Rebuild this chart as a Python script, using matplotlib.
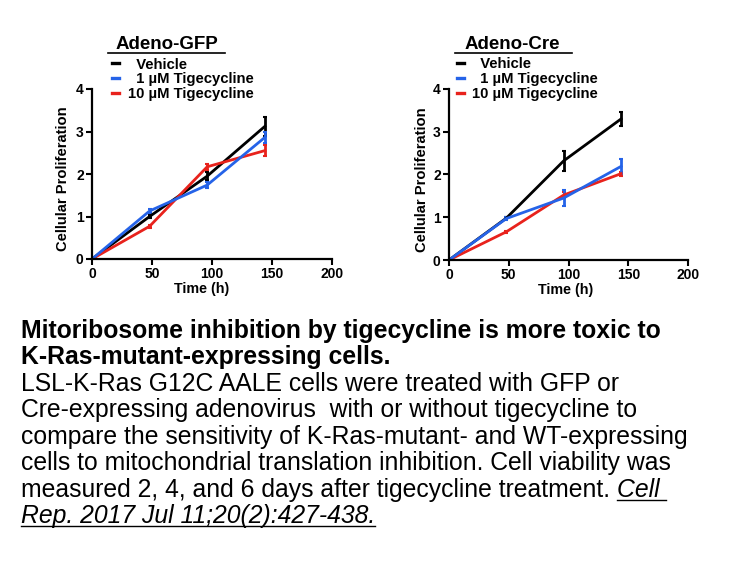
import numpy as np
import matplotlib
matplotlib.use('Agg')
import matplotlib.pyplot as plt
from matplotlib.lines import Line2D

plt.rcParams['font.family'] = ['Liberation Sans', 'DejaVu Sans']
plt.rcParams['font.weight'] = 'bold'

# data
time_h = [0, 48, 96, 144]
series_names = ['  Vehicle', '  1 \u00b5M Tigecycline', '10 \u00b5M Tigecycline']
series_colors = ['black', '#2563e8', '#e8221c']

gfp_mean = {
    'vehicle': [0, 1.00, 1.95, 3.12],
    'tig1': [0, 1.13, 1.74, 2.86],
    'tig10': [0, 0.77, 2.17, 2.55],
}
gfp_err = {
    'vehicle': [0, 0.04, 0.10, 0.22],
    'tig1': [0, 0.04, 0.07, 0.12],
    'tig10': [0, 0.03, 0.07, 0.13],
}
cre_mean = {
    'vehicle': [0, 0.98, 2.32, 3.30],
    'tig1': [0, 0.97, 1.45, 2.19],
    'tig10': [0, 0.66, 1.52, 2.02],
}
cre_err = {
    'vehicle': [0, 0.03, 0.24, 0.17],
    'tig1': [0, 0.03, 0.18, 0.17],
    'tig10': [0, 0.03, 0.08, 0.05],
}

caption_lines = [
    ('Mitoribosome inhibition by tigecycline is more toxic to', 'bold'),
    ('K-Ras-mutant-expressing cells.', 'bold'),
    ('LSL-K-Ras G12C AALE cells were treated with GFP or', 'normal'),
    ('Cre-expressing adenovirus  with or without tigecycline to', 'normal'),
    ('compare the sensitivity of K-Ras-mutant- and WT-expressing', 'normal'),
    ('cells to mitochondrial translation inhibition. Cell viability was', 'normal'),
    ('measured 2, 4, and 6 days after tigecycline treatment. ', 'normal'),
    ('', 'normal'),
]
ref_parts = ['Cell ', 'Rep. 2017 Jul 11;20(2):427-438.']

W, H = 756, 567
fig = plt.figure(figsize=(W / 100, H / 100), dpi=100)


def panel(rect, title, mean, err, title_x, uline, leg_x, ylab_x, xlab_x):
    ax = fig.add_axes(rect)
    order = ['vehicle', 'tig10', 'tig1']
    keys = ['vehicle', 'tig1', 'tig10']
    for k in order:
        c = series_colors[keys.index(k)]
        ax.errorbar(time_h, mean[k], yerr=err[k], color=c,
                    lw=2, elinewidth=2, capsize=1.5, capthick=1.5)
    ax.set_xlim(0, 200)
    ax.set_ylim(0, 4)
    ax.set_xticks([0, 50, 100, 150, 200])
    ax.set_yticks([0, 1, 2, 3, 4])
    for s in ['top', 'right']:
        ax.spines[s].set_visible(False)
    for s in ['left', 'bottom']:
        ax.spines[s].set_linewidth(1.6)
    ax.tick_params(width=1.5, length=4, labelsize=10, pad=2)
    for lab in ax.get_xticklabels() + ax.get_yticklabels():
        lab.set_fontweight('bold')
    ax.set_xlabel('Time (h)', fontsize=10.3, fontweight='bold')
    ax.xaxis.set_label_coords(xlab_x, -0.135)
    ax.set_ylabel('Cellular Proliferation', fontsize=10.6, fontweight='bold')
    ax.yaxis.set_label_coords(ylab_x, 0.47)
    ax.text(title_x, 1.26, title, transform=ax.transAxes, ha='center',
            va='center', fontsize=13.5, fontweight='bold')
    ax.plot(uline, [1.212, 1.212], transform=ax.transAxes, color='black',
            lw=1.2, clip_on=False)
    handles = [Line2D([], [], color=c, lw=2.4) for c in series_colors]
    ax.legend(handles, series_names, loc='upper left',
              bbox_to_anchor=(leg_x, 1.185), frameon=False,
              handlelength=0.45, handletextpad=0.6, labelspacing=0.05,
              borderpad=0, borderaxespad=0,
              prop={'size': 10.7, 'weight': 'bold'})
    return ax


panel([92 / W, 1 - 259 / H, 240 / W, 170 / H], 'Adeno-GFP', gfp_mean,
      gfp_err, 0.3125, [0.067, 0.554], 0.085, -0.09, 0.456)
panel([449 / W, 1 - 260 / H, 239 / W, 171 / H], 'Adeno-Cre', cre_mean,
      cre_err, 0.264, [0.025, 0.515], 0.033, -0.083, 0.49)

# caption
x0 = 21 / W
fs = 17.8
texts = []
for i, (line, wt) in enumerate(caption_lines):
    y = 1 - (338 + i * 26.43) / H
    t = fig.text(x0, y, line, fontsize=fs, fontweight=wt, va='baseline')
    texts.append((t, y))

fig.canvas.draw()
r = fig.canvas.get_renderer()


def underlined(x, y, s):
    t = fig.text(x, y, s, fontsize=fs, fontstyle='italic',
                 fontweight='normal', va='baseline')
    bb = t.get_window_extent(r)
    yl = y - 3 / H
    fig.add_artist(Line2D([bb.x0 / W, bb.x1 / W], [yl, yl], color='black',
                          lw=1.0))


t6, y6 = texts[6]
bb6 = t6.get_window_extent(r)
underlined(bb6.x1 / W, y6, ref_parts[0])
underlined(x0, texts[7][1], ref_parts[1])

fig.savefig('out.png', dpi=100)
